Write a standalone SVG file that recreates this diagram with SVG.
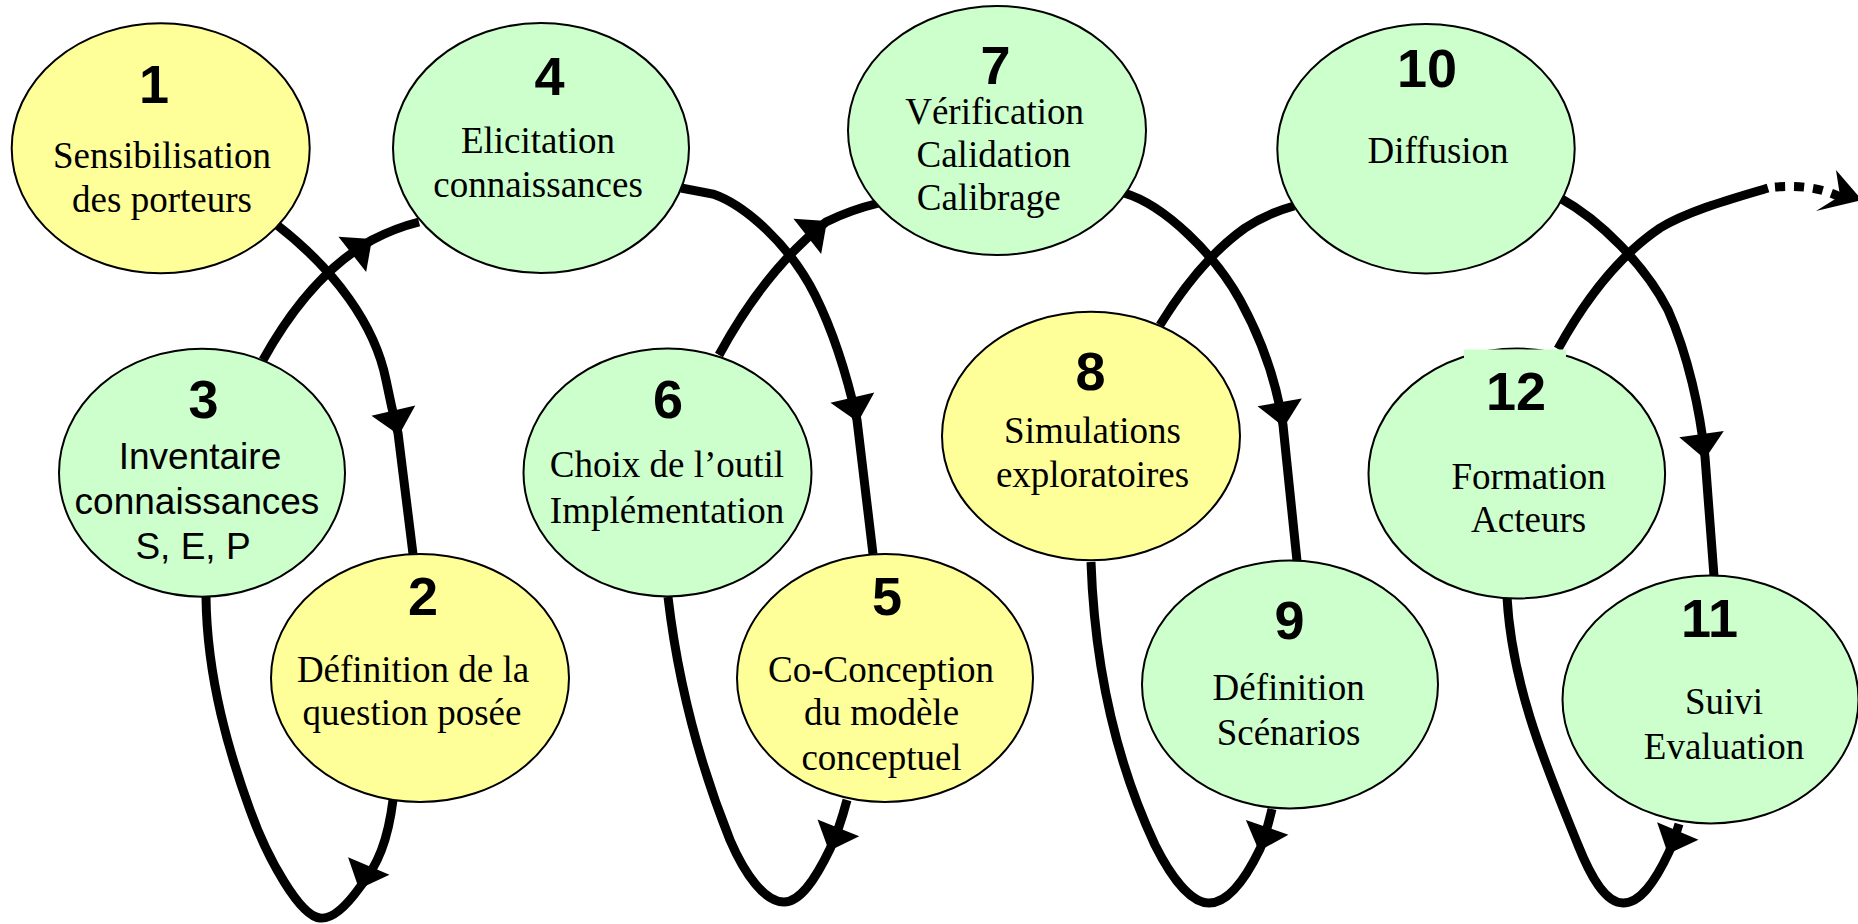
<svg xmlns="http://www.w3.org/2000/svg" xmlns:xlink="http://www.w3.org/1999/xlink" width="1858" height="924" viewBox="0 0 1858 924">
<style>
.conn{fill:none;stroke:#000;stroke-width:9}
.dot{fill:none;stroke:#000;stroke-width:9;stroke-dasharray:10 9}
.y{fill:#ffff99;stroke:#000;stroke-width:2}
.g{fill:#ccffcc;stroke:#000;stroke-width:2}
.num{font-family:"Liberation Sans",Arial,sans-serif;font-weight:bold;font-size:54px;text-anchor:middle;fill:#000}
.lbl{font-family:"Liberation Serif","Times New Roman",serif;font-size:37px;text-anchor:middle;fill:#000}
.sans{font-family:"Liberation Sans",Arial,sans-serif;font-size:37px;text-anchor:middle;fill:#000}
</style>
<defs>
<path id="ah" d="M0,0 L-25,-22.5 L-25,22.5 Z" fill="#000"/>
</defs>
<rect width="1858" height="924" fill="#fff"/>
<g id="connectors">
<path class="conn" d="M277,225 C335,270 375,325 386,380 C392,410 396,425 398,433 L413,554"/>
<use xlink:href="#ah" transform="translate(399,435) rotate(77)"/>
<path class="conn" d="M263,360 Q310,275 372,240 Q395,228 419,222"/>
<use xlink:href="#ah" transform="translate(372,239) rotate(-38)"/>
<path class="conn" d="M393,800 C388,840 378,865 360,887 C340,915 328,919 320,918 C300,916 268,860 250,810 C230,755 207,680 206,597"/>
<use xlink:href="#ah" transform="translate(359,889) rotate(113)"/>
<path class="conn" d="M681,188 L713,194 C745,205 790,245 815,295 C835,335 848,380 857,420 L873,554"/>
<use xlink:href="#ah" transform="translate(858,422) rotate(77)"/>
<path class="conn" d="M719,355 Q765,270 826,222 Q850,210 879,203"/>
<use xlink:href="#ah" transform="translate(827,221) rotate(-38)"/>
<path class="conn" d="M847,800 C843,815 838,832 830,849 C815,880 800,902 784,902 C765,902 745,875 730,840 C708,785 680,700 668,597"/>
<use xlink:href="#ah" transform="translate(829,851) rotate(112)"/>
<path class="conn" d="M1124,193 C1165,205 1215,255 1240,300 C1262,340 1277,385 1283,425 L1297,561"/>
<use xlink:href="#ah" transform="translate(1284,427) rotate(80)"/>
<path class="conn" d="M1160,325 Q1200,260 1245,228 Q1268,213 1294,206"/>
<path class="conn" d="M1272,809 C1268,825 1265,838 1260,849 C1245,880 1228,903 1209,903 C1190,903 1170,875 1155,845 C1120,770 1095,680 1091,562"/>
<use xlink:href="#ah" transform="translate(1259,851) rotate(109)"/>
<path class="conn" d="M1560,198 C1600,220 1645,265 1668,310 C1688,355 1700,410 1705,457 L1714,576"/>
<use xlink:href="#ah" transform="translate(1705,459) rotate(82)"/>
<path class="conn" d="M1679,824 C1676,834 1673,843 1669,852 C1655,882 1640,903 1623,903 C1605,903 1590,875 1578,845 C1550,775 1512,690 1507,597"/>
<use xlink:href="#ah" transform="translate(1668,854) rotate(113)"/>
<path class="conn" d="M1558,349 C1585,300 1620,255 1660,228 C1690,210 1735,198 1768,188"/>
<path class="dot" d="M1775,187 C1800,185 1822,188 1840,197"/>
<path d="M1836,170 L1862,200 L1816,211 L1840,196 Z" fill="#000"/>
</g>
<g id="node1">
<ellipse class="y" cx="160.7" cy="148.3" rx="149" ry="125"/>
<text class="num" x="154" y="103">1</text>
<text class="lbl" x="162" y="168">Sensibilisation</text>
<text class="lbl" x="162" y="212">des porteurs</text>
</g>
<g id="node4">
<ellipse class="g" cx="541" cy="148" rx="148" ry="125"/>
<text class="num" x="549.6" y="95">4</text>
<text class="lbl" x="538" y="153">Elicitation</text>
<text class="lbl" x="538" y="197">connaissances</text>
</g>
<g id="node3">
<ellipse class="g" cx="202" cy="472.7" rx="143" ry="124"/>
<text class="num" x="203.6" y="418">3</text>
<text class="sans" x="200" y="469">Inventaire</text>
<text class="sans" x="197" y="514">connaissances</text>
<text class="sans" x="193" y="559">S, E, P</text>
</g>
<g id="node2">
<ellipse class="y" cx="420" cy="678" rx="149" ry="124"/>
<text class="num" x="423" y="615">2</text>
<text class="lbl" x="413" y="682">Définition de la</text>
<text class="lbl" x="412" y="725">question posée</text>
</g>
<g id="node6">
<ellipse class="g" cx="667.5" cy="472.5" rx="144" ry="124"/>
<text class="num" x="668" y="418">6</text>
<text class="lbl" x="667" y="477">Choix de l’outil</text>
<text class="lbl" x="667" y="523">Implémentation</text>
</g>
<g id="node5">
<ellipse class="y" cx="885" cy="678" rx="148" ry="124"/>
<text class="num" x="887" y="615">5</text>
<text class="lbl" x="881" y="682">Co-Conception</text>
<text class="lbl" x="881.5" y="725">du modèle</text>
<text class="lbl" x="881.5" y="770">conceptuel</text>
</g>
<g id="node7">
<ellipse class="g" cx="997" cy="130.5" rx="149" ry="124.5"/>
<text class="num" x="995.6" y="84">7</text>
<text class="lbl" x="994.6" y="124">Vérification</text>
<text class="lbl" x="993.6" y="167">Calidation</text>
<text class="lbl" x="988.7" y="210">Calibrage</text>
</g>
<g id="node8">
<ellipse class="y" cx="1091" cy="436" rx="149" ry="124.3"/>
<text class="num" x="1090.5" y="390">8</text>
<text class="lbl" x="1092.5" y="443">Simulations</text>
<text class="lbl" x="1092.5" y="487">exploratoires</text>
</g>
<g id="node9">
<ellipse class="g" cx="1290" cy="684.5" rx="148" ry="124"/>
<text class="num" x="1289.4" y="639">9</text>
<text class="lbl" x="1288.6" y="700">Définition</text>
<text class="lbl" x="1288.6" y="745">Scénarios</text>
</g>
<g id="node10">
<ellipse class="g" cx="1426" cy="148.7" rx="148.7" ry="124.7"/>
<text class="num" x="1427" y="87">10</text>
<text class="lbl" x="1438" y="163">Diffusion</text>
</g>
<g id="node12">
<ellipse class="g" cx="1516.8" cy="473.5" rx="148.3" ry="125"/>
<rect x="1464" y="349.5" width="102" height="16" fill="#ccffcc"/>
<text class="num" x="1516" y="410">12</text>
<text class="lbl" x="1528.6" y="489">Formation</text>
<text class="lbl" x="1528.6" y="532">Acteurs</text>
</g>
<g id="node11">
<ellipse class="g" cx="1710.5" cy="699.5" rx="148" ry="124"/>
<text class="num" x="1709.5" y="637">11</text>
<text class="lbl" x="1724" y="714">Suivi</text>
<text class="lbl" x="1724" y="759">Evaluation</text>
</g>
</svg>
